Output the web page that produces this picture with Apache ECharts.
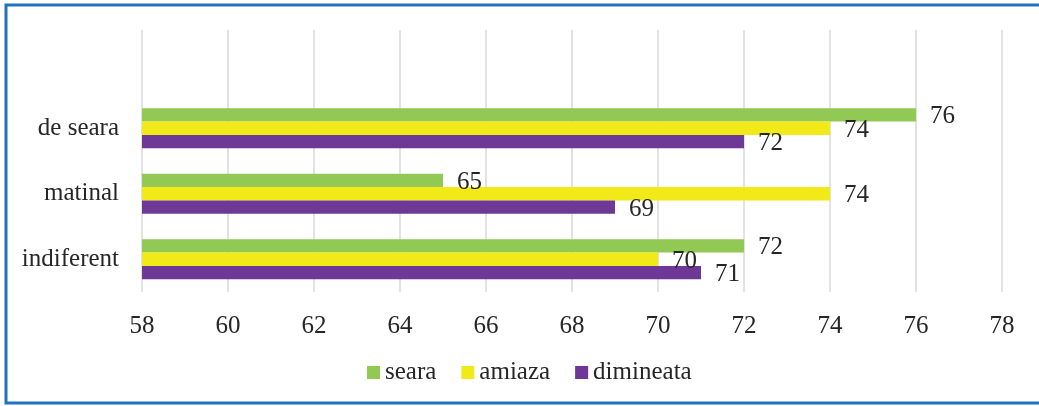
<!DOCTYPE html>
<html>
<head>
<meta charset="utf-8">
<script src="https://cdn.jsdelivr.net/npm/echarts@6/dist/echarts.min.js"></script>
<style>
  html, body { margin: 0; padding: 0; background: #ffffff; }
  #chart { width: 1039px; height: 406px; }
</style>
</head>
<body>
<div id="chart"></div>
<script>
// Categories, bottom to top
const categories = ['indiferent', 'matinal', 'de seara'];
// Values per time of day, same order as categories
const seara = [72, 65, 76];
const amiaza = [70, 74, 74];
const dimineata = [71, 69, 72];
const xTicks = { min: 58, max: 78, interval: 2 };

const FONT = '"Liberation Serif", "Times New Roman", serif';
const TEXT = '#262626';

// An empty slot is kept above the last category
const axisCats = categories.concat(['']);
const pad = arr => arr.concat([null]);

function barSeries(name, data, color) {
  return {
    name: name,
    type: 'bar',
    data: pad(data),
    barGap: '0%',
    barCategoryGap: '39%',
    itemStyle: { color: color },
    label: {
      show: true,
      position: 'right',
      distance: 14,
      offset: [0, 2],
      color: TEXT,
      fontFamily: FONT,
      fontSize: 25
    }
  };
}

const chart = echarts.init(document.getElementById('chart'));
chart.setOption({
  animation: false,
  backgroundColor: '#ffffff',
  textStyle: { fontFamily: FONT },
  grid: { left: 142, right: 37, top: 30, bottom: 114, containLabel: false },
  xAxis: {
    type: 'value',
    min: xTicks.min,
    max: xTicks.max,
    interval: xTicks.interval,
    axisLine: { show: false },
    axisTick: { show: false },
    splitLine: { show: true, lineStyle: { color: '#D9D9D9', width: 1.5 } },
    axisLabel: { color: TEXT, fontFamily: FONT, fontSize: 25, margin: 22 }
  },
  yAxis: {
    type: 'category',
    data: axisCats,
    axisLine: { show: false },
    axisTick: { show: false },
    axisLabel: { color: TEXT, fontFamily: FONT, fontSize: 25, margin: 23 }
  },
  legend: {
    data: ['seara', 'amiaza', 'dimineata'],
    left: 362,
    top: 355,
    itemWidth: 13,
    itemHeight: 13,
    itemGap: 25,
    icon: 'rect',
    textStyle: { color: TEXT, fontFamily: FONT, fontSize: 25, padding: [0, 0, 0, 0] }
  },
  graphic: [{
    type: 'rect',
    shape: { x: 6, y: 5, width: 1040, height: 398 },
    style: { fill: null, stroke: '#1F72BE', lineWidth: 3 },
    silent: true
  }],
  // In this version the first series sits at the top of each band
  series: [
    barSeries('seara', seara, '#92C955'),
    barSeries('amiaza', amiaza, '#F2EA18'),
    barSeries('dimineata', dimineata, '#6F3796')
  ]
});
</script>
</body>
</html>
